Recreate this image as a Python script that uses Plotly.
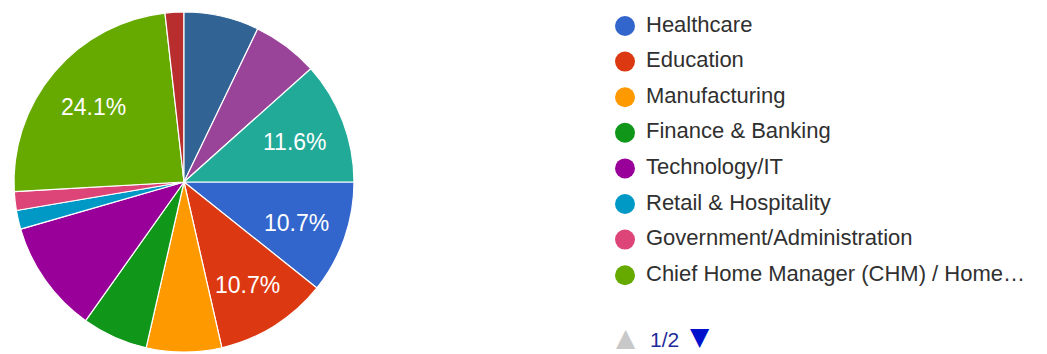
import math
import plotly.graph_objects as go

# Responses per sector (n = 112)
sectors = [
    "Healthcare",
    "Education",
    "Manufacturing",
    "Finance & Banking",
    "Technology/IT",
    "Retail & Hospitality",
    "Government/Administration",
    "Chief Home Manager (CHM) / Homemaker",
    "Business Owner / Entrepreneur",
    "Student",
    "Agriculture",
    "Other",
]
counts = [12, 12, 8, 7, 12, 2, 2, 27, 2, 8, 7, 13]
colors = [
    "#3366cc", "#dc3912", "#ff9900", "#109618", "#990099", "#0099c6",
    "#dd4477", "#66aa00", "#b82e2e", "#316395", "#994499", "#22aa99",
]
# slices that carry a percentage label
labelled = ["Healthcare", "Education", "Chief Home Manager (CHM) / Homemaker", "Other"]

# first legend page
legend_page = [
    "Healthcare",
    "Education",
    "Manufacturing",
    "Finance & Banking",
    "Technology/IT",
    "Retail & Hospitality",
    "Government/Administration",
    "Chief Home Manager (CHM) / Home…",
]
page_text = "1/2"

FONT = "Arial, 'Liberation Sans', sans-serif"
W, H = 1047, 354

# pie geometry (pixels)
CX, CY, R = 184, 182, 170
START_DEG = 90          # first slice begins at 3 o'clock
LABEL_R = 0.70          # label distance as a fraction of the radius

fig = go.Figure()

fig.add_trace(go.Pie(
    labels=sectors,
    values=counts,
    sort=False,
    direction="clockwise",
    rotation=START_DEG,
    marker=dict(colors=colors, line=dict(color="white", width=1.2)),
    textinfo="none",
    domain=dict(x=[(CX - R) / W, (CX + R) / W], y=[(H - CY - R) / H, (H - CY + R) / H]),
    showlegend=False,
    hoverinfo="label+value+percent",
))

# percentage labels on the slice bisectors
total = sum(counts)
annotations = []
cum = 0
for name, c in zip(sectors, counts):
    mid = cum + c / 2
    cum += c
    if name not in labelled:
        continue
    ang = math.radians(360 * mid / total)   # clockwise from 3 o'clock
    px = CX + LABEL_R * R * math.cos(ang)
    py = CY + LABEL_R * R * math.sin(ang) + 2
    annotations.append(dict(
        text=f"{c / total:.1%}", x=px / W, y=1 - py / H,
        xref="paper", yref="paper", xanchor="center", yanchor="middle",
        showarrow=False,
        font=dict(size=23, color="white", family=FONT),
    ))

# legend drawn as a marker column with labels
idx = list(range(len(legend_page)))
fig.add_trace(go.Scatter(
    x=[0] * len(legend_page),
    y=idx,
    mode="markers",
    marker=dict(size=20, color=colors[:len(legend_page)], symbol="circle"),
    hoverinfo="skip",
    showlegend=False,
    cliponaxis=False,
))
fig.add_trace(go.Scatter(
    x=[21] * len(legend_page),
    y=idx,
    mode="text",
    text=legend_page,
    textposition="middle right",
    textfont=dict(size=22, color="#303030", family=FONT),
    hoverinfo="skip",
    showlegend=False,
    cliponaxis=False,
))

row = 35.6
top = 26
TRI = "'DejaVu Sans', sans-serif"
annotations += [
    dict(text="▲", x=626 / W, y=1 - 337 / H, xref="paper", yref="paper",
         xanchor="center", yanchor="middle",
         showarrow=False, font=dict(size=25, color="#c8c8c8", family=TRI)),
    dict(text=page_text, x=664 / W, y=1 - 339 / H, xref="paper", yref="paper",
         xanchor="center", yanchor="middle",
         showarrow=False, font=dict(size=21, color="#1f2a99", family=FONT)),
    dict(text="▼", x=700 / W, y=1 - 336 / H, xref="paper", yref="paper",
         xanchor="center", yanchor="middle",
         showarrow=False, font=dict(size=25, color="#0011cc", family=TRI)),
]

fig.update_layout(
    width=W,
    height=H,
    margin=dict(l=0, r=0, t=0, b=0),
    paper_bgcolor="white",
    plot_bgcolor="white",
    xaxis=dict(range=[-625, W - 625], visible=False, fixedrange=True),
    yaxis=dict(range=[(H - top) / row, -top / row], visible=False, fixedrange=True),
    annotations=annotations,
)

fig.write_html("out.html")
